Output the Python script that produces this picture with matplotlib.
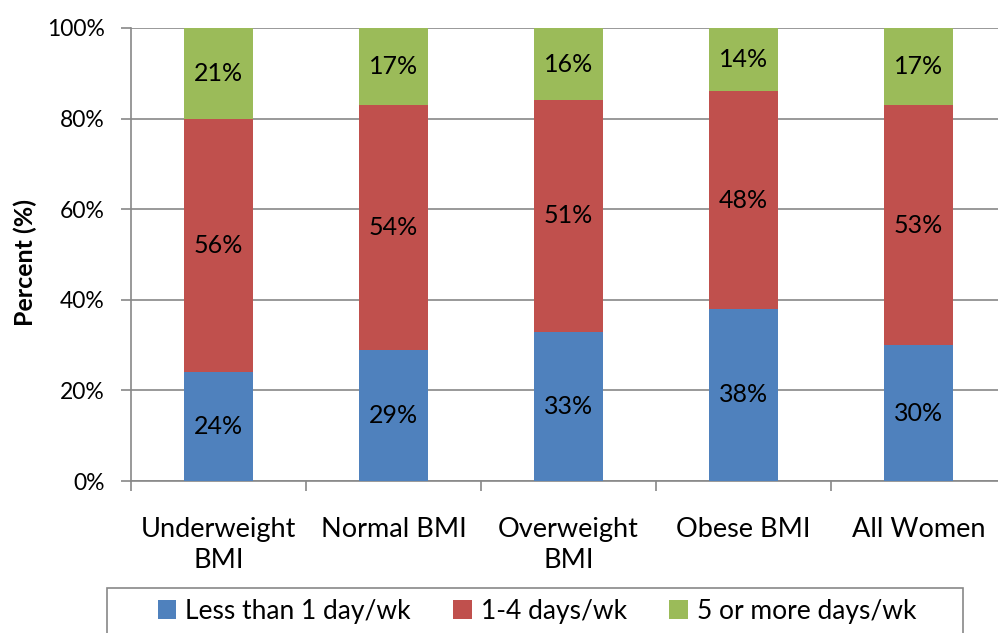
import numpy as np
import matplotlib.pyplot as plt
from matplotlib.patches import Patch, Rectangle

categories = ['Underweight\nBMI', 'Normal BMI', 'Overweight\nBMI', 'Obese BMI', 'All Women']
less_1 = [24, 29, 33, 38, 30]
days_1_4 = [56, 54, 51, 48, 53]
days_5_plus = [21, 17, 16, 14, 17]
series_names = ['Less than 1 day/wk', '1-4 days/wk', '5 or more days/wk']
colors = ['#4F81BD', '#C0504D', '#9BBB59']

plt.rcParams['font.family'] = ['Lato', 'DejaVu Sans']

W, H = 998, 633
fig = plt.figure(figsize=(W / 100, H / 100), dpi=100)
ax = fig.add_axes([131 / W, 1 - 481 / H, (1006 - 131) / W, (481 - 28) / H])

x = np.arange(len(categories))
bottom = np.zeros(len(categories))
for vals, col in zip([less_1, days_1_4, days_5_plus], colors):
    vals = np.array(vals, dtype=float)
    ax.bar(x, vals, 0.39, bottom=bottom, color=col, zorder=3)
    for xi, b, v in zip(x, bottom, vals):
        top = min(b + v, 100)
        ax.text(xi, (b + top) / 2, f'{int(v)}%', ha='center', va='center',
                fontsize=18, zorder=4)
    bottom += vals

ax.set_xlim(-0.5, len(categories) - 0.5)
ax.set_ylim(0, 100)
ax.set_yticks(np.arange(0, 101, 20))
ax.set_yticklabels([f'{v}%' for v in range(0, 101, 20)])
ax.yaxis.grid(True, color='#888888', linewidth=1.2, zorder=0)

# boundaries get tick marks, category names sit on minor ticks
ax.set_xticks(np.arange(len(categories) + 1) - 0.5, minor=False)
ax.set_xticklabels([])
ax.set_xticks(x, minor=True)
ax.set_xticklabels(categories, minor=True, fontsize=19.5, linespacing=1.3, va='top')
ax.tick_params(axis='x', which='minor', length=0, pad=26)
ax.tick_params(axis='x', which='major', length=7, color='#888888', width=1.2)
ax.tick_params(axis='y', length=7, color='#888888', width=1.2, labelsize=16.5, pad=12)

for side in ['top', 'right']:
    ax.spines[side].set_visible(False)
for side in ['left', 'bottom']:
    ax.spines[side].set_color('#888888')
    ax.spines[side].set_linewidth(1.2)

ax.set_ylabel('Percent (%)', fontsize=18, fontweight='bold')
ax.yaxis.set_label_coords(-(131 - 37) / (1006 - 131), (481 - 262) / (481 - 28))

# legend box runs off the bottom edge
fig.patches.append(Rectangle((107 / W, -0.05), (963 - 107) / W, 0.05 + (633 - 588) / H,
                             transform=fig.transFigure, facecolor='none',
                             edgecolor='#888888', linewidth=1.2))
handles = [Patch(facecolor=c, edgecolor='none') for c in colors]
leg = fig.legend(handles, series_names, loc='center', ncol=3,
                 bbox_to_anchor=(537 / W, 1 - 611 / H),
                 fontsize=19, frameon=False, columnspacing=1.6,
                 handlelength=0.7, handleheight=0.7, handletextpad=0.35,
                 borderaxespad=0, borderpad=0)

fig.savefig('out.png', dpi=100)
